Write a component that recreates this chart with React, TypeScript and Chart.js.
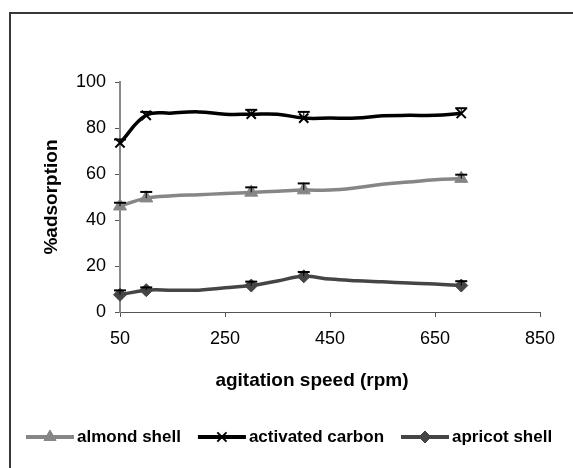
import { useEffect, useRef } from "react"
import { Chart, registerables } from "chart.js"
import type { Plugin } from "chart.js"
import { drawPoint } from "chart.js/helpers"

Chart.register(...registerables)

// agitation speed (rpm) of each reading
const speeds = [50, 100, 150, 200, 250, 300, 350, 400, 450, 500, 550, 600, 650, 700]
const almondShell = [46, 49.5, 50.5, 51, 51.5, 52, 52.5, 53, 53, 54, 55.5, 56.5, 57.5, 58]
const activatedCarbon = [73.5, 85.5, 86.5, 87, 86, 86, 86, 84.3, 84.3, 84.3, 85.3, 85.5, 85.5, 86.3]
const apricotShell = [7.5, 9.5, 9.5, 9.5, 10.5, 11.5, 13.5, 15.5, 14.3, 13.6, 13.1, 12.6, 12.2, 11.5]

// speeds that carry a marker and an error bar
const markedSpeeds = [50, 100, 300, 400, 700]
const almondError = [1.5, 2.7, 2.2, 2.9, 1.7]
const carbonError = [1.5, 1.5, 1.9, 2.7, 2.3]
const apricotError = [1.9, 1.2, 1.7, 1.9, 1.9]

const xTicks = [50, 250, 450, 650, 850]
const yTicks = [0, 20, 40, 60, 80, 100]

const FONT = "'Liberation Sans', Arial, sans-serif"
const errorSets = [almondError, carbonError, apricotError]

const errorBars: Plugin<"line"> = {
  id: "errorBars",
  afterDatasetsDraw(chart) {
    const { ctx } = chart
    const yScale = chart.scales.y
    chart.data.datasets.forEach((ds, di) => {
      const meta = chart.getDatasetMeta(di)
      ctx.save()
      ctx.strokeStyle = "#000"
      markedSpeeds.forEach((s, k) => {
        const i = speeds.indexOf(s)
        const pt = meta.data[i]
        const v = (ds.data[i] as { x: number; y: number }).y
        const top = yScale.getPixelForValue(v + errorSets[di][k])
        ctx.lineWidth = 1
        ctx.beginPath()
        ctx.moveTo(pt.x, pt.y)
        ctx.lineTo(pt.x, top)
        ctx.stroke()
        ctx.lineWidth = 2
        ctx.beginPath()
        ctx.moveTo(pt.x - 6, top)
        ctx.lineTo(pt.x + 6, top)
        ctx.stroke()
      })
      ctx.restore()
    })
  },
}

// x title and the line+marker legend at the bottom
const bottomText: Plugin<"line"> = {
  id: "bottomText",
  afterDraw(chart) {
    const { ctx } = chart
    ctx.save()
    ctx.fillStyle = "#000"
    ctx.font = `bold 19px ${FONT}`
    ctx.textAlign = "center"
    ctx.textBaseline = "middle"
    ctx.fillText("agitation speed (rpm)", 312, 381)

    ctx.font = `bold 17px ${FONT}`
    ctx.textAlign = "left"
    let x = 26
    const y = 437
    chart.data.datasets.forEach((ds: any) => {
      const lineLen = 48
      ctx.strokeStyle = ds.borderColor
      ctx.lineWidth = 4
      ctx.beginPath()
      ctx.moveTo(x, y)
      ctx.lineTo(x + lineLen, y)
      ctx.stroke()
      ctx.fillStyle = ds.pointBackgroundColor
      ctx.strokeStyle = ds.pointBorderColor
      ctx.lineWidth = ds.pointBorderWidth
      drawPoint(ctx, { pointStyle: ds.pointStyle, radius: ds.legendRadius, rotation: 0, borderWidth: ds.pointBorderWidth }, x + lineLen / 2, y)
      ctx.fillStyle = "#000"
      ctx.fillText(ds.label, x + lineLen + 3, y)
      x += lineLen + 3 + ctx.measureText(ds.label).width + 17
    })
    ctx.restore()
  },
}

const toPoints = (values: number[]) => speeds.map((s, i) => ({ x: s, y: values[i] }))
const markerRadius = (r: number) => (c: any) => (markedSpeeds.includes(speeds[c.dataIndex]) ? r : 0)

const App: React.FC = () => {
  const chartRef = useRef<HTMLCanvasElement | null>(null)
  const chartInstance = useRef<Chart | null>(null)

  useEffect(() => {
    if (!chartRef.current) return
    const ctx = chartRef.current.getContext("2d")
    if (!ctx) return
    if (chartInstance.current) chartInstance.current.destroy()

    chartInstance.current = new Chart(ctx, {
      type: "line",
      data: {
        datasets: [
          {
            label: "almond shell",
            data: toPoints(almondShell),
            borderColor: "#868686",
            borderWidth: 3.5,
            pointStyle: "triangle",
            pointRadius: markerRadius(7.5),
            pointBackgroundColor: "#868686",
            pointBorderColor: "#868686",
            pointBorderWidth: 1,
            legendRadius: 7,
            tension: 0.4,
            clip: false,
          } as any,
          {
            label: "activated carbon",
            data: toPoints(activatedCarbon),
            borderColor: "#000",
            borderWidth: 3.5,
            pointStyle: "crossRot",
            pointRadius: markerRadius(6.5),
            pointBackgroundColor: "#000",
            pointBorderColor: "#000",
            pointBorderWidth: 2,
            legendRadius: 6.5,
            tension: 0.4,
            clip: false,
          } as any,
          {
            label: "apricot shell",
            data: toPoints(apricotShell),
            borderColor: "#454545",
            borderWidth: 3.5,
            pointStyle: "rectRot",
            pointRadius: markerRadius(6.5),
            pointBackgroundColor: "#454545",
            pointBorderColor: "#454545",
            pointBorderWidth: 1,
            legendRadius: 6,
            tension: 0.4,
            clip: false,
          } as any,
        ],
      },
      options: {
        responsive: false,
        animation: false,
        layout: { padding: { top: 82, right: 33, bottom: 0, left: 0 } },
        plugins: {
          legend: { display: false },
          tooltip: { enabled: false },
        },
        scales: {
          x: {
            type: "linear",
            min: 50,
            max: 850,
            afterBuildTicks: (scale) => {
              scale.ticks = xTicks.map((v) => ({ value: v }))
            },
            afterFit: (scale) => {
              scale.height = 156
            },
            grid: { drawOnChartArea: false, tickLength: 5, color: "#555" },
            border: { color: "#555", width: 1 },
            ticks: { color: "#000", padding: 11, font: { family: FONT, size: 18 }, maxRotation: 0 },
          },
          y: {
            min: 0,
            max: 100,
            afterBuildTicks: (scale) => {
              scale.ticks = yTicks.map((v) => ({ value: v }))
            },
            afterFit: (scale) => {
              scale.width = 120
            },
            grid: { drawOnChartArea: false, tickLength: 5, color: "#555" },
            border: { color: "#8a8a8a", width: 2 },
            ticks: { color: "#000", padding: 9, font: { family: FONT, size: 18 } },
            title: {
              display: true,
              text: "%adsorption",
              color: "#000",
              font: { family: FONT, size: 19, weight: "bold" },
              padding: { top: 40.6, bottom: 0 },
            },
          },
        },
      },
      plugins: [errorBars, bottomText],
    })

    return () => {
      if (chartInstance.current) {
        chartInstance.current.destroy()
        chartInstance.current = null
      }
    }
  }, [])

  return (
    <div style={{ position: "fixed", left: 0, top: 0, width: 573, height: 468, overflow: "hidden", background: "#fff" }}>
      <div
        style={{
          position: "absolute",
          left: 9,
          top: 12,
          width: 600,
          height: 500,
          borderLeft: "2px solid #383838",
          borderTop: "2px solid #383838",
        }}
      />
      <canvas ref={chartRef} width={573} height={468} style={{ position: "absolute", left: 0, top: 0 }} />
    </div>
  )
}

export default App
